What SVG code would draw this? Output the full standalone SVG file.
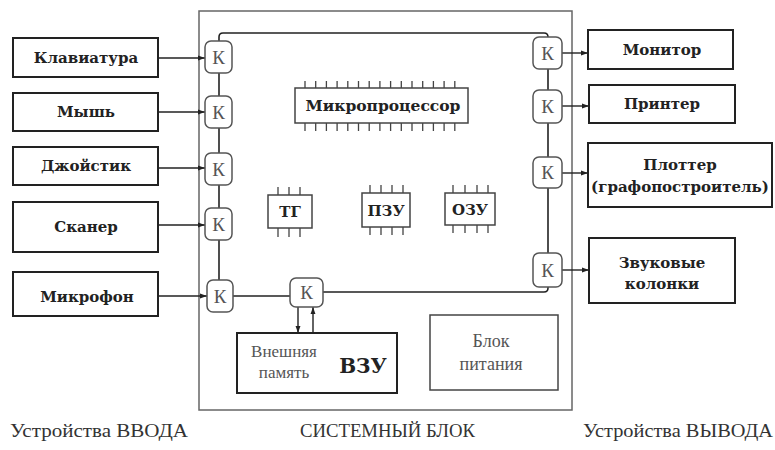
<svg xmlns="http://www.w3.org/2000/svg" width="775" height="450" viewBox="0 0 775 450">
<defs>
<marker id="ah" viewBox="0 0 10 10" refX="10" refY="5" markerWidth="7" markerHeight="7" markerUnits="userSpaceOnUse" orient="auto"><path d="M0,1.5 L10,5 L0,8.5 z" fill="#222"/></marker>
<style>
.dev{fill:#fff;stroke:#222;stroke-width:2}
.lbl{font-family:"DejaVu Serif","Liberation Serif",serif;font-weight:bold;font-size:15px;fill:#222;text-anchor:middle}
.k{fill:#fff;stroke:#555;stroke-width:1.5}
.kt{font-family:"Liberation Serif",serif;font-size:19px;fill:#555;text-anchor:middle}
.chip{fill:#fff;stroke:#444;stroke-width:1.5}
.pin{stroke:#444;stroke-width:1.3}
.ln{fill:none;stroke:#222;stroke-width:1.6}
.ar{fill:none;stroke:#222;stroke-width:1.4;marker-end:url(#ah)}
.sys{fill:none;stroke:#666;stroke-width:1.5}
.cap{font-family:"Liberation Serif",serif;font-size:19px;fill:#333}
.gr{font-family:"Liberation Serif",serif;font-size:17px;fill:#555;text-anchor:middle}
</style>
</defs>
<rect width="775" height="450" fill="#fff"/>
<rect id="system-block" class="sys" x="199" y="11" width="373" height="399"/>

<g id="connectors">
<path class="ln" d="M219,41 V37 Q219,33 223,33 H544 Q548,33 548,37 V253"/>
<path class="ln" d="M219,73 V280"/>
<path class="ln" d="M548,287 V288 Q548,292 544,292 H323"/>
<path class="ln" d="M233,296 H290"/>
<path class="ar" d="M158,58 H205"/>
<path class="ar" d="M158,112 H205"/>
<path class="ar" d="M158,168 H205"/>
<path class="ar" d="M158,225 H205"/>
<path class="ar" d="M158,296 H207"/>
<path class="ar" d="M562,53 H588"/>
<path class="ar" d="M562,106 H589"/>
<path class="ar" d="M562,173 H588"/>
<path class="ar" d="M562,270 H589"/>
<path class="ar" d="M298,307 V333"/>
<path class="ar" d="M313,333 V307"/>
</g>

<g id="klaviatura"><rect class="dev" x="13" y="38" width="145" height="39"/><text class="lbl" x="86" y="63">Клавиатура</text></g>
<g id="mysh"><rect class="dev" x="13" y="93" width="145" height="38"/><text class="lbl" x="86" y="117">Мышь</text></g>
<g id="dzhoystik"><rect class="dev" x="13" y="147" width="145" height="38"/><text class="lbl" x="86" y="171">Джойстик</text></g>
<g id="skaner"><rect class="dev" x="13" y="202" width="145" height="50"/><text class="lbl" x="86" y="232">Сканер</text></g>
<g id="mikrofon"><rect class="dev" x="13" y="272" width="145" height="44"/><text class="lbl" x="87" y="302">Микрофон</text></g>

<g id="monitor"><rect class="dev" x="588" y="30" width="145" height="39"/><text class="lbl" x="662" y="55">Монитор</text></g>
<g id="printer"><rect class="dev" x="589" y="85" width="146" height="38"/><text class="lbl" x="662" y="109">Принтер</text></g>
<g id="plotter"><rect class="dev" x="588" y="143" width="184" height="64"/><text class="lbl" x="680" y="170">Плоттер</text><text class="lbl" x="680" y="192">(графопостроитель)</text></g>
<g id="zvuk"><rect class="dev" x="589" y="238" width="146" height="65"/><text class="lbl" x="662" y="268">Звуковые</text><text class="lbl" x="662" y="289">колонки</text></g>

<g id="k1"><rect class="k" x="205" y="41" width="27" height="32" rx="6"/><text class="kt" x="218.5" y="64">К</text></g>
<g id="k2"><rect class="k" x="205" y="96" width="27" height="32" rx="6"/><text class="kt" x="218.5" y="119">К</text></g>
<g id="k3"><rect class="k" x="205" y="153" width="27" height="32" rx="6"/><text class="kt" x="218.5" y="176">К</text></g>
<g id="k4"><rect class="k" x="205" y="208" width="27" height="32" rx="6"/><text class="kt" x="218.5" y="231">К</text></g>
<g id="k5"><rect class="k" x="207" y="280" width="26" height="32" rx="6"/><text class="kt" x="220" y="303">К</text></g>
<g id="k6"><rect class="k" x="290" y="278" width="33" height="29" rx="6"/><text class="kt" x="306.5" y="299">К</text></g>
<g id="k7"><rect class="k" x="533" y="37" width="29" height="32" rx="6"/><text class="kt" x="547.5" y="60">К</text></g>
<g id="k8"><rect class="k" x="533" y="90" width="29" height="33" rx="6"/><text class="kt" x="547.5" y="113">К</text></g>
<g id="k9"><rect class="k" x="533" y="157" width="29" height="31" rx="6"/><text class="kt" x="547.5" y="179">К</text></g>
<g id="k10"><rect class="k" x="533" y="253" width="29" height="34" rx="6"/><text class="kt" x="547.5" y="277">К</text></g>

<g id="mikroprocessor">
<path class="pin" d="M305,81V88M315.7,81V88M326.4,81V88M337.1,81V88M347.8,81V88M358.5,81V88M369.2,81V88M379.9,81V88M390.6,81V88M401.3,81V88M412,81V88M422.7,81V88M433.4,81V88M444.1,81V88M454.8,81V88"/>
<path class="pin" d="M305,123V131M315.7,123V131M326.4,123V131M337.1,123V131M347.8,123V131M358.5,123V131M369.2,123V131M379.9,123V131M390.6,123V131M401.3,123V131M412,123V131M422.7,123V131M433.4,123V131M444.1,123V131M454.8,123V131"/>
<rect class="chip" x="295" y="88" width="173" height="35"/>
<text class="lbl" x="383" y="111" style="font-size:15.5px">Микропроцессор</text>
</g>
<g id="tg">
<path class="pin" d="M278,187V195M289,187V195M300,187V195M278,228V237M289,228V237M300,228V237"/>
<rect class="chip" x="268" y="195" width="44" height="33"/>
<text class="lbl" x="290" y="217">ТГ</text>
</g>
<g id="pzu">
<path class="pin" d="M370,185V193M381,185V193M392,185V193M403,185V193M370,227V235M381,227V235M392,227V235M403,227V235"/>
<rect class="chip" x="362" y="193" width="48" height="34"/>
<text class="lbl" x="386" y="216">ПЗУ</text>
</g>
<g id="ozu">
<path class="pin" d="M453,185V193M465,185V193M477,185V193M488,185V193M453,225V233M465,225V233M477,225V233M488,225V233"/>
<rect class="chip" x="445" y="193" width="50" height="32"/>
<text class="lbl" x="470" y="215">ОЗУ</text>
</g>

<g id="vzu">
<rect class="dev" x="237" y="333" width="160" height="60"/>
<text class="gr" x="284" y="357">Внешняя</text>
<text class="gr" x="284" y="378">память</text>
<text class="lbl" x="363" y="373" style="font-size:20px">ВЗУ</text>
</g>
<g id="blok-pitaniya">
<rect class="dev" x="430" y="315" width="128" height="75" style="stroke:#444;stroke-width:1.5"/>
<text class="gr" x="491" y="347" style="font-size:18px">Блок</text>
<text class="gr" x="491" y="370" style="font-size:18px">питания</text>
</g>

<text class="cap" x="10" y="437" textLength="178" lengthAdjust="spacingAndGlyphs">Устройства ВВОДА</text>
<text class="cap" x="300" y="437" textLength="175" lengthAdjust="spacingAndGlyphs">СИСТЕМНЫЙ БЛОК</text>
<text class="cap" x="583" y="437" textLength="190" lengthAdjust="spacingAndGlyphs">Устройства ВЫВОДА</text>
</svg>
